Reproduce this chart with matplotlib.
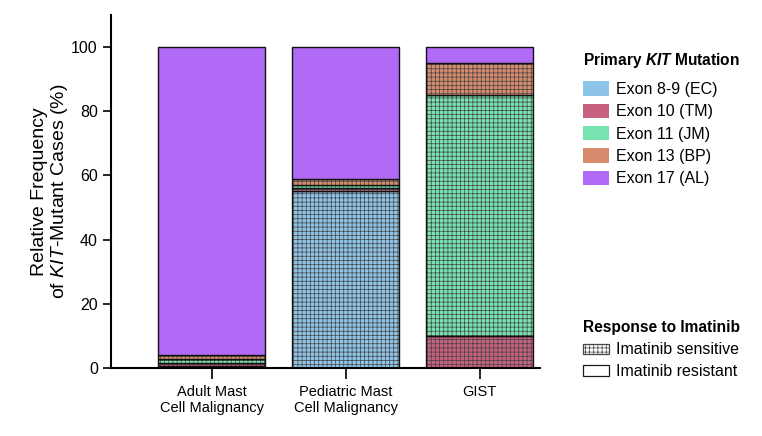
import matplotlib.pyplot as plt
from matplotlib.patches import Patch

plt.rcParams['font.family'] = ['Liberation Sans', 'DejaVu Sans']
plt.rcParams['mathtext.fontset'] = 'custom'
plt.rcParams['mathtext.it'] = 'Liberation Sans:italic'
plt.rcParams['mathtext.bf'] = 'Liberation Sans:bold'
plt.rcParams['mathtext.bfit'] = 'Liberation Sans:italic:bold'
plt.rcParams['hatch.linewidth'] = 0.5

# data (percent of KIT-mutant cases)
groups = ["Adult Mast\nCell Malignancy", "Pediatric Mast\nCell Malignancy", "GIST"]
exons = ["Exon 8-9 (EC)", "Exon 10 (TM)", "Exon 11 (JM)", "Exon 13 (BP)", "Exon 17 (AL)"]
exon_8_9 = [0.7, 55, 0]
exon_10 = [1.0, 1, 10]
exon_11 = [1.2, 1, 75]
exon_13 = [1.1, 2, 10]
exon_17 = [96, 41, 5]
sensitive = [True, True, True, True, False]  # exon 17 is imatinib resistant

colors = ["#8ec4e8", "#c8607f", "#76e3b1", "#d78b6c", "#b06af5"]
series = [exon_8_9, exon_10, exon_11, exon_13, exon_17]
hatch_col = "#454545"

fig = plt.figure(figsize=(7.62, 4.36), dpi=100)
ax = fig.add_axes([0.1457, 0.156, 0.563, 0.81])

x = list(range(len(groups)))
bottom = [0, 0, 0]
for vals, col, sens in zip(series, colors, sensitive):
    # fill + hatch (edge colour drives the hatch colour), then a black outline
    ax.bar(x, vals, 0.8, bottom=bottom, color=col, edgecolor=hatch_col,
           linewidth=0, hatch="++++" if sens else None)
    ax.bar(x, vals, 0.8, bottom=bottom, fill=False, edgecolor="#111111", linewidth=1.0)
    bottom = [b + v for b, v in zip(bottom, vals)]

ax.set_xlim(-0.75, 2.45)
ax.set_ylim(0, 110)
ax.set_yticks([0, 20, 40, 60, 80, 100])
ax.set_xticks(x)
ax.set_xticklabels(groups, fontsize=10.5)
ax.tick_params(axis="y", labelsize=11.5, length=6, width=1.2)
ax.tick_params(axis="x", length=8, width=1.2, pad=4)
for s in ["top", "right"]:
    ax.spines[s].set_visible(False)
for s in ["left", "bottom"]:
    ax.spines[s].set_linewidth(1.5)
ax.set_ylabel("Relative Frequency\nof $\\it{KIT}$-Mutant Cases (%)", fontsize=14,
              labelpad=1, linespacing=1.05)

# legend 1: mutation
fig.text(583 / 762, 1 - 60 / 436, "Primary $\\mathbfit{KIT}$ Mutation", fontsize=11.2,
         fontweight="bold", ha="left", va="center")
h1 = [Patch(facecolor=c, edgecolor="none") for c in colors]
leg1 = fig.legend(h1, exons, loc="upper left", bbox_to_anchor=(0.757, 1 - 75 / 436),
                  frameon=False, fontsize=11.5,
                  handlelength=1.6, handleheight=1.0,
                  handletextpad=0.45, labelspacing=0.42, borderaxespad=0)

# legend 2: response
fig.text(583 / 762, 1 - 327 / 436, "Response to Imatinib", fontsize=11.2,
         fontweight="bold", ha="left", va="center")
h2 = [Patch(facecolor="white", edgecolor=hatch_col, linewidth=0.9, hatch="++++"),
      Patch(facecolor="white", edgecolor="#1a1a1a", linewidth=0.9)]
leg2 = fig.legend(h2, ["Imatinib sensitive", "Imatinib resistant"], loc="upper left",
                  bbox_to_anchor=(0.757, 1 - 336 / 436), frameon=False, fontsize=11.5,
                  handlelength=1.6, handleheight=0.6,
                  handletextpad=0.45, labelspacing=0.42, borderaxespad=0)

fig.savefig("out.png", dpi=100)
